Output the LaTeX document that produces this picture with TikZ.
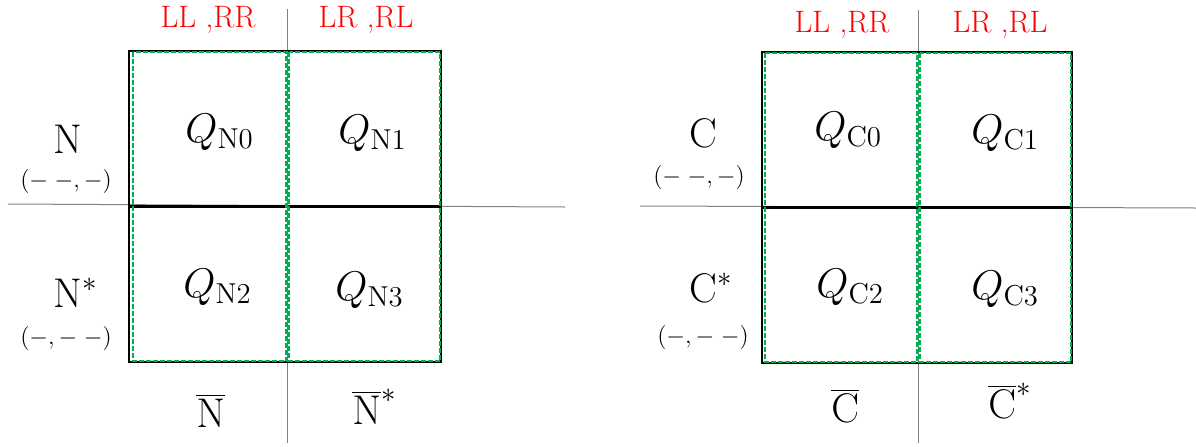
\documentclass[tikz,border=0pt]{standalone}
\usetikzlibrary{positioning}
\definecolor{quadgreen}{RGB}{0,176,80}
\definecolor{axisgray}{RGB}{128,128,128}
\tikzset{
  %% ---- lines ----
  axisline/.style = {draw=axisgray, line width=0.5pt},
  gridbox/.style  = {draw=black, line width=1.2pt},
  midline/.style  = {draw=black, line width=1.5pt},
  greencol/.style = {draw=quadgreen, line width=1.2pt,
                     dash pattern=on 2.5pt off 1pt},
  %% ---- texts ----
  redlabel/.style  = {anchor=base, text=red, inner sep=0pt,
                      font=\fontsize{15.5}{18}\selectfont},
  quadlabel/.style = {anchor=base west, inner sep=0pt, font=\huge},
  rowlabel/.style  = {anchor=base west, inner sep=0pt, font=\huge},
  signlabel/.style = {inner sep=0pt, font=\large},
}

\begin{document}
\begin{tikzpicture}[x=0.5pt, y=-0.5pt]
  \useasboundingbox (0,0) rectangle (1196,446);

  %% ================= left panel (N) =================
  \draw[axisline] (8,204) -- (565,207);
  \draw[axisline] (287,9) -- (287,443);

  \coordinate (ntl) at (129,51);
  \coordinate (nbr) at (441,362);
  \draw[gridbox] (ntl) rectangle (nbr);
  \draw[midline] (129,206) -- (441,206);
  \draw[greencol] (133,52) rectangle (286.5,361);
  \draw[greencol] (288.5,52) rectangle (440,361);

  \node[redlabel] (nll) at (208,27) {LL ,RR};
  \node[redlabel] (nlr) at (366,27) {LR ,RL};

  \node[quadlabel] (qn0) at (185,142) {$Q_{\mathrm{N0}}$};
  \node[quadlabel] (qn1) at (338,143) {$Q_{\mathrm{N1}}$};
  \node[quadlabel] (qn2) at (183,297) {$Q_{\mathrm{N2}}$};
  \node[quadlabel] (qn3) at (335,300) {$Q_{\mathrm{N3}}$};

  \node[rowlabel] (nrow) at (53,153) {N};
  \node[signlabel] (nsign) at (66,181) {$({-}\;{-},{-})$};
  \node[rowlabel] (nsrow) at (53,307) {N$^{*}$};
  \node[signlabel] (nssign) at (66,338) {$({-},{-}\;{-})$};

  \node[rowlabel] (nbar) at (196,427) {$\overline{\mathrm{N}}$};
  \node[rowlabel] (nsbar) at (352,424) {$\overline{\mathrm{N}}^{*}$};

  %% ================= right panel (C) =================
  \draw[axisline] (640,206) -- (1196,208);
  \draw[axisline] (918,10) -- (918,443);

  \coordinate (ctl) at (762,52);
  \coordinate (cbr) at (1072,363);
  \draw[gridbox] (ctl) rectangle (cbr);
  \draw[midline] (762,207) -- (1072,207);
  \draw[greencol] (765,53) rectangle (917,362);
  \draw[greencol] (919.5,53) rectangle (1071,362);

  \node[redlabel] (cll) at (842,32) {LL ,RR};
  \node[redlabel] (clr) at (1000,32) {LR ,RL};

  \node[quadlabel] (qc0) at (814,140) {$Q_{\mathrm{C0}}$};
  \node[quadlabel] (qc1) at (971,143) {$Q_{\mathrm{C1}}$};
  \node[quadlabel] (qc2) at (816,297) {$Q_{\mathrm{C2}}$};
  \node[quadlabel] (qc3) at (971,299) {$Q_{\mathrm{C3}}$};

  \node[rowlabel] (crow) at (689,147) {C};
  \node[signlabel] (csign) at (699,177) {$({-}\;{-},{-})$};
  \node[rowlabel] (csrow) at (689,302) {C$^{*}$};
  \node[signlabel] (cssign) at (703,337) {$({-},{-}\;{-})$};

  \node[rowlabel] (cbar) at (831,422) {$\overline{\mathrm{C}}$};
  \node[rowlabel] (csbar) at (988,418) {$\overline{\mathrm{C}}^{*}$};

\end{tikzpicture}
\end{document}
